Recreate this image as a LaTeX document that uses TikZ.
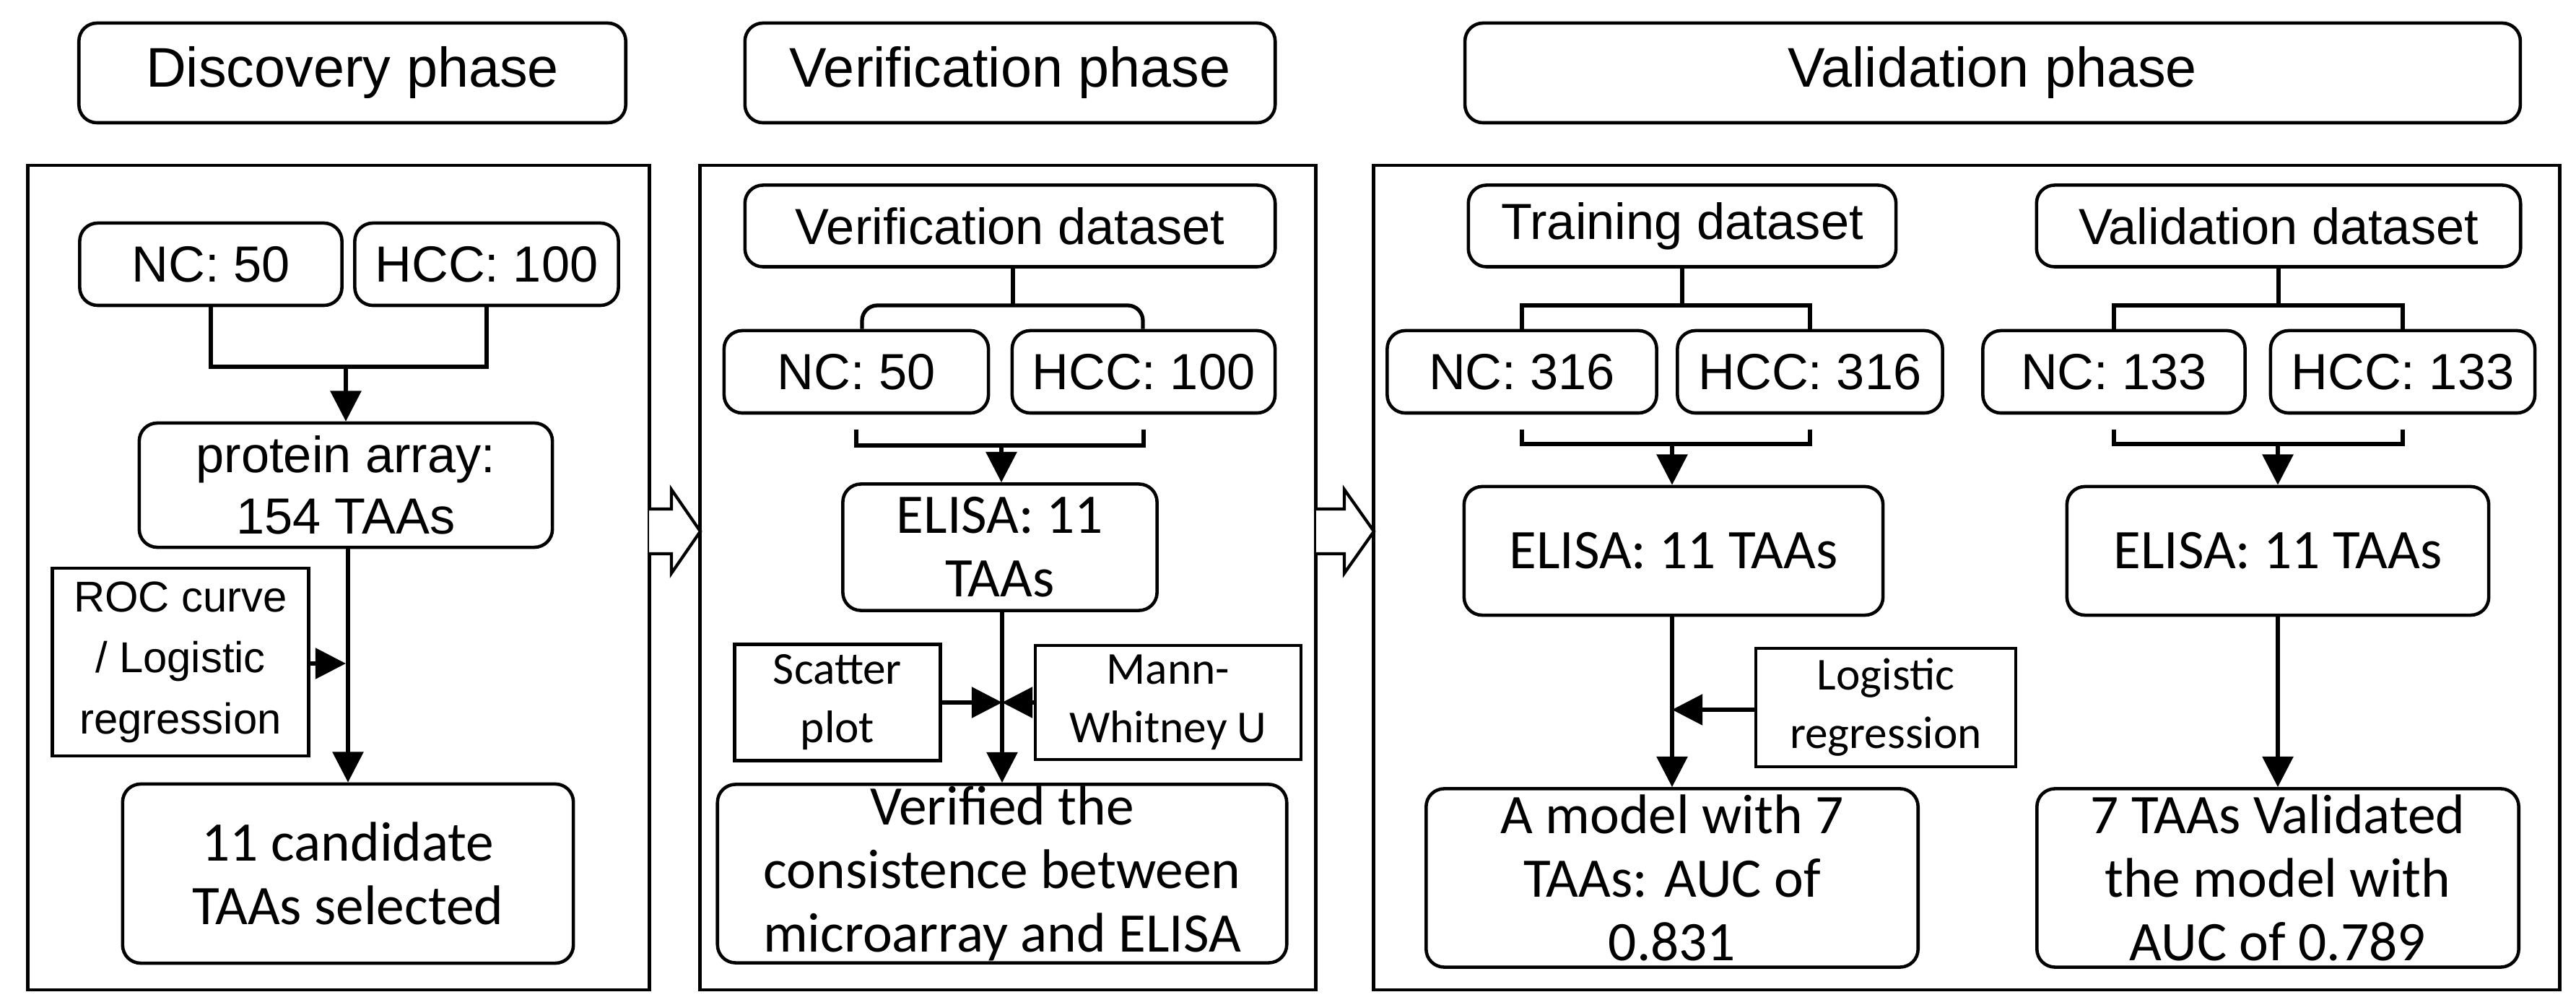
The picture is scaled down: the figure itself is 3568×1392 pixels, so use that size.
\documentclass[tikz,border=0pt]{standalone}
\usepackage{fontspec}
\setmainfont{Liberation Sans}
\newfontfamily\calib{Carlito}
\usetikzlibrary{arrows.meta}

\begin{document}
\begin{tikzpicture}[
	x=0.01cm, y=-0.01cm,
	line width=1.3pt,
	box/.style={draw, rounded corners=0.25cm, align=center, inner sep=0pt},
	note/.style={draw, align=center, inner sep=0pt},
	panel/.style={draw},
	hd/.style={font=\fontsize{22}{26}\selectfont},
	ar/.style={font=\fontsize{20}{24}\selectfont},
	cb/.style={font=\calib\fontsize{22}{25}\selectfont},
	sm/.style={font=\calib\fontsize{18}{23}\selectfont},
	link/.style={line width=1.5pt},
	flow/.style={line width=1.5pt, -{Triangle[width=12pt, length=12pt]}},
	hollow/.style={draw, line width=1.2pt, fill=white}
	]
	\useasboundingbox (0,0) rectangle (3568,1392);
	
	% phase headers
	\node[box, hd, minimum width=7.57cm, minimum height=1.38cm] (dh) at (488,101) {Discovery phase};
	\node[box, hd, minimum width=7.34cm, minimum height=1.38cm] (vh) at (1399,101) {Verification phase};
	\node[box, hd, minimum width=14.61cm, minimum height=1.38cm] (lh) at (2760,101) {Validation phase};
	
	% panels
	\node[panel, minimum width=8.60cm, minimum height=11.41cm] (dp) at (469,800) {};
	\node[panel, minimum width=8.53cm, minimum height=11.41cm] (vp) at (1396,800) {};
	\node[panel, minimum width=16.42cm, minimum height=11.41cm] (lp) at (2724,800) {};
	
	% hollow arrows between phases
	\draw[hollow] (899,705) -- (930,705) -- (930,678) -- (970,736) -- (930,794) -- (930,767) -- (899,767);
	\draw[hollow] (1823,705) -- (1862,705) -- (1862,678) -- (1903,736) -- (1862,794) -- (1862,767) -- (1823,767);
	
	% discovery phase
	\node[box, ar, minimum width=3.63cm, minimum height=1.14cm] (nc1) at (292,366) {NC: 50};
	\node[box, ar, minimum width=3.65cm, minimum height=1.14cm] (hcc1) at (674,366) {HCC: 100};
	\node[box, ar, minimum width=5.72cm, minimum height=1.72cm] (pa) at (479,672) {protein array:\\154 TAAs};
	\node[note, font=\fontsize{17}{24}\selectfont, minimum width=3.55cm, minimum height=2.60cm] (roc) at (250,917) {ROC curve\\/ Logistic\\regression};
	\node[box, cb, minimum width=6.24cm, minimum height=2.48cm] (cand) at (482,1210) {11 candidate\\TAAs selected};
	\coordinate (j1) at (479,508);
	\draw[link] (nc1.south) |- (j1) -| (hcc1.south);
	\draw[flow] (j1) -- (pa.north);
	\draw[flow] (pa.south -| cand.north) -- (cand.north);
	\draw[flow] (roc.east |- 0,919) -- (479,919);
	
	% verification phase
	\node[box, ar, minimum width=7.34cm, minimum height=1.13cm] (vds) at (1399,313) {Verification dataset};
	\node[box, ar, minimum width=3.66cm, minimum height=1.14cm] (nc2) at (1186,515) {NC: 50};
	\node[box, ar, minimum width=3.64cm, minimum height=1.14cm] (hcc2) at (1584,515) {HCC: 100};
	\node[box, cb, minimum width=4.35cm, minimum height=1.75cm] (el2) at (1385,758) {ELISA: 11\\TAAs};
	\node[note, sm, minimum width=2.85cm, minimum height=1.61cm] (sc) at (1160,973) {Scatter\\plot};
	\node[note, sm, minimum width=3.68cm, minimum height=1.58cm] (mw) at (1618,973) {Mann-\\Whitney U};
	\node[box, cb, minimum width=7.88cm, minimum height=2.47cm] (ver) at (1388,1210) {Verified the\\consistence between\\microarray and ELISA};
	\coordinate (t2) at (1403,423);
	\coordinate (j2) at (1387,617);
	\draw[link, rounded corners=6pt] (nc2.north -| 1194,0) |- (t2) -| (hcc2.north -| 1583,0);
	\draw[link] (vds.south -| t2) -- (t2);
	\draw[link] ([yshift=-6]nc2.south) |- (j2) -| ([yshift=-6]hcc2.south);
	\draw[flow] (j2) -- (el2.north -| j2);
	\draw[flow] (el2.south -| ver.north) -- (ver.north);
	\draw[flow] (sc.east) -- (sc.east -| ver.north);
	\draw[flow] (mw.west) -- (mw.west -| ver.north);
	
	% validation phase: training
	\node[box, ar, minimum width=5.92cm, minimum height=1.13cm] (tds) at (2330,313) {Training dataset};
	\node[box, ar, minimum width=3.73cm, minimum height=1.14cm] (nc3) at (2108,515) {NC: 316};
	\node[box, ar, minimum width=3.67cm, minimum height=1.14cm] (hcc3) at (2507,515) {HCC: 316};
	\node[box, cb, minimum width=5.80cm, minimum height=1.78cm] (el3) at (2318,763) {ELISA: 11 TAAs};
	\node[note, sm, minimum width=3.60cm, minimum height=1.64cm] (lr) at (2612,980) {Logistic\\regression};
	\node[box, cb, minimum width=6.81cm, minimum height=2.47cm] (mod) at (2316,1216) {A model with 7\\TAAs: AUC of\\0.831};
	\coordinate (t3) at (2330,423);
	\coordinate (j3) at (2316,615);
	\draw[link] (nc3.north) |- (t3) -| (hcc3.north);
	\draw[link] (tds.south) -- (t3);
	\draw[link] ([yshift=-6]nc3.south) |- (j3) -| ([yshift=-6]hcc3.south);
	\draw[flow] (j3) -- (el3.north -| j3);
	\draw[flow] (el3.south -| mod.north) -- (mod.north);
	\draw[flow] (lr.west |- 0,983) -- (2316,983);
	
	% validation phase: validation
	\node[box, ar, minimum width=6.70cm, minimum height=1.13cm] (vds2) at (3156,313) {Validation dataset};
	\node[box, ar, minimum width=3.63cm, minimum height=1.14cm] (nc4) at (2928,515) {NC: 133};
	\node[box, ar, minimum width=3.66cm, minimum height=1.14cm] (hcc4) at (3328,515) {HCC: 133};
	\node[box, cb, minimum width=5.84cm, minimum height=1.78cm] (el4) at (3155,763) {ELISA: 11 TAAs};
	\node[box, cb, minimum width=6.67cm, minimum height=2.47cm] (vld) at (3155,1216) {7 TAAs Validated\\the model with\\AUC of 0.789};
	\coordinate (t4) at (3156,423);
	\coordinate (j4) at (3155,615);
	\draw[link] (nc4.north) |- (t4) -| (hcc4.north);
	\draw[link] (vds2.south) -- (t4);
	\draw[link] ([yshift=-6]nc4.south) |- (j4) -| ([yshift=-6]hcc4.south);
	\draw[flow] (j4) -- (el4.north);
	\draw[flow] (el4.south) -- (vld.north);
\end{tikzpicture}
\end{document}
